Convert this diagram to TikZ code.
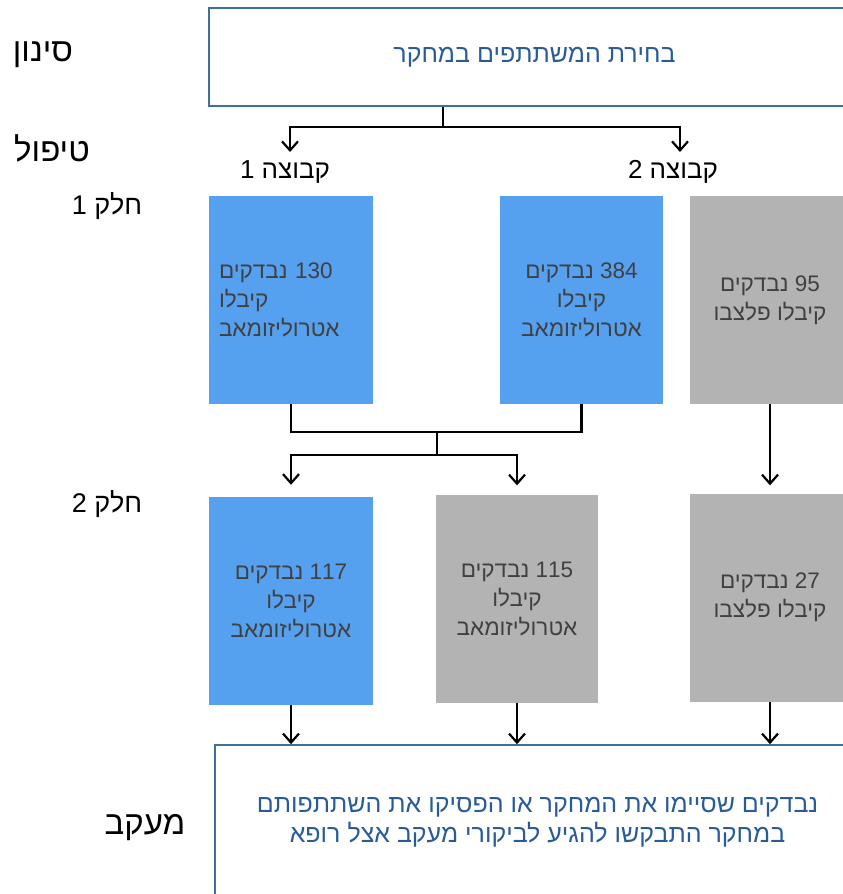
\documentclass[tikz,border=0pt]{standalone}
\usepackage{fontspec}
\setmainfont{Liberation Sans}[Script=Hebrew]
\usetikzlibrary{arrows.meta}
\TeXXeTstate=1
\definecolor{boxBlue}{RGB}{85,161,240}
\definecolor{boxGray}{RGB}{179,179,179}
\definecolor{frameBlue}{RGB}{62,112,158}
\definecolor{textBlue}{RGB}{40,92,152}
\definecolor{textGray}{RGB}{64,64,64}
\newcommand{\heb}[1]{\beginR #1\endR}

\begin{document}
\begin{tikzpicture}[x=1pt, y=-1pt,
  frame/.style={draw=frameBlue, line width=2pt, text=textBlue, align=center},
  stage/.style={font=\fontsize{33}{38}\selectfont, inner sep=0pt},
  part/.style={font=\fontsize{27}{32}\selectfont, inner sep=0pt},
  grp/.style={font=\fontsize{26}{30}\selectfont, inner sep=0pt},
  arm/.style={minimum height=208pt, text=textGray, align=center,
    font=\fontsize{22.5}{29}\selectfont},
  atz/.style={arm, fill=boxBlue},
  pbo/.style={arm, fill=boxGray},
  line/.style={line width=2.2pt},
  arr/.style={line, -{Straight Barb[length=9pt, width=16pt]}},
]
  \useasboundingbox (0,0) rectangle (843,894);
  \node[frame, minimum width=651pt, minimum height=98pt,
    font=\fontsize{25}{30}\selectfont] (select) at (534.5,57)
    {\heb{בחירת המשתתפים במחקר}};
  \node[frame, line width=1.6pt, minimum width=645pt, minimum height=155pt,
    font=\fontsize{25}{30}\selectfont] (followup) at (537.5,822.5)
    {\heb{נבדקים שסיימו את המחקר או הפסיקו את השתתפותם}\\
     \heb{במחקר התבקשו להגיע לביקורי מעקב אצל רופא}};

  \node[stage] (screen) at (43,55) {\heb{סינון}};
  \node[stage] (treat) at (52,148) {\heb{טיפול}};
  \node[part] (part1) at (107,206) {\heb{חלק 1}};
  \node[part] (part2) at (107,504) {\heb{חלק 2}};
  \node[stage] (follow) at (145,828) {\heb{מעקב}};

  \node[grp] (grp1) at (285,172) {\heb{קבוצה 1}};
  \node[grp] (grp2) at (673,172) {\heb{קבוצה 2}};

  \node[atz, minimum width=164pt, align=left, text width=144pt] (atz130) at (291,300)
    {\heb{130 נבדקים}\\\heb{קיבלו}\\\heb{אטרוליזומאב}};
  \node[atz, minimum width=163pt] (atz384) at (581.5,300)
    {\heb{384 נבדקים}\\\heb{קיבלו}\\\heb{אטרוליזומאב}};
  \node[pbo, minimum width=160pt] (pbo95) at (770,300)
    {\heb{95 נבדקים}\\\heb{קיבלו פלצבו}};
  \node[atz, minimum width=164pt] (atz117) at (291,601)
    {\heb{117 נבדקים}\\\heb{קיבלו}\\\heb{אטרוליזומאב}};
  \node[pbo, minimum width=162pt] (atz115) at (517,598.5)
    {\heb{115 נבדקים}\\\heb{קיבלו}\\\heb{אטרוליזומאב}};
  \node[pbo, minimum width=160pt] (pbo27) at (770,597.5)
    {\heb{27 נבדקים}\\\heb{קיבלו פלצבו}};

  \coordinate (split) at (443,127);
  \coordinate (tip1) at (290,152);
  \coordinate (tip2) at (680,152);
  \draw[line] (split |- select.south) -- (split);
  \draw[arr] (split) -| (tip1);
  \draw[arr] (split) -| (tip2);

  \coordinate (join) at (437,432);
  \coordinate (split2) at (437,455);
  \draw[line] (atz130.south) |- (join) -| (atz384.south);
  \draw[line] (join) -- (split2);
  \draw[arr, shorten >=12pt] (split2) -| (atz117.north);
  \draw[arr, shorten >=9pt] (split2) -| (atz115.north);
  \draw[arr, shorten >=8pt] (pbo95.south) -- (pbo27.north);

  \draw[arr] (atz117.south) -- (atz117.south |- followup.north);
  \draw[arr] (atz115.south) -- (atz115.south |- followup.north);
  \draw[arr] (pbo27.south) -- (pbo27.south |- followup.north);
\end{tikzpicture}
\end{document}
